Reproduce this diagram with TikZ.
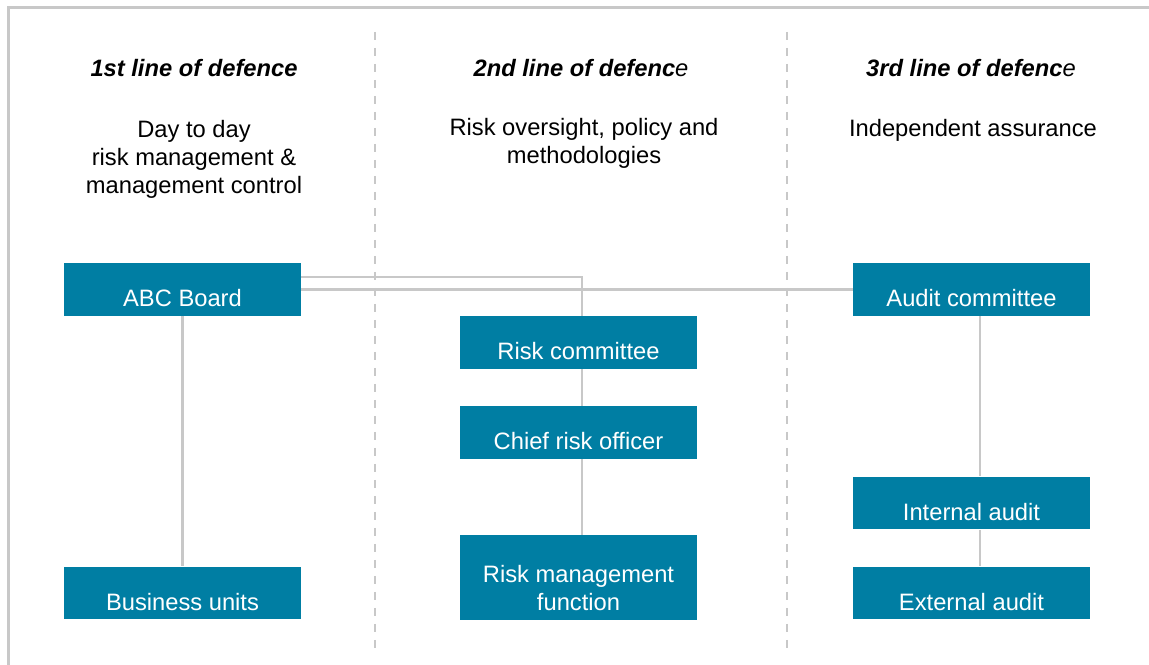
\documentclass[tikz,border=0pt]{standalone}
\usepackage{fontspec}
\setmainfont{Liberation Sans}
\usetikzlibrary{calc}
\newcommand\diagfont{\fontsize{13.5}{16}\selectfont}
\begin{document}
\begin{tikzpicture}[x=0.02cm,y=-0.02cm,
    unit/.style={fill=myteal,text=white,font=\diagfont,inner sep=0pt,minimum width=4.74cm,
        text height=0.88cm,text depth=0.18cm,align=center},
    link/.style={draw=mygray,line width=1.6pt},
    divider/.style={draw=mygray,line width=1.4pt,dash pattern=on 0.16cm off 0.16cm},
    heading/.style={anchor=base,font=\diagfont\bfseries\itshape},
    subhead/.style={anchor=north,inner sep=0pt,align=center,font=\diagfont}]

\definecolor{myteal}{RGB}{0,126,163}
\definecolor{mygray}{RGB}{200,200,200}

    \useasboundingbox (0,0) rectangle (1149,665);

    %Rahmen und Trennlinien
    \draw[link] (1149,7.5) -- (8.5,7.5) -- (8.5,665);
    \draw[divider] (375,32) -- (375,648);
    \draw[divider] (787,32) -- (787,648);

    %Ueberschriften
    \node[heading] (head1) at (194,77) {1st line of defence};
    \node[heading] (head2) at (581,77) {2nd line of defenc\textmd{e}};
    \node[heading] (head3) at (971,77) {3rd line of defenc\textmd{e}};

    \node[subhead] (sub1) at (194,120) {Day to day\\risk management \&\\management control};
    \node[subhead] (sub2) at (584,118) {Risk oversight, policy and\\methodologies};
    \node[subhead] (sub3) at (973,119) {Independent assurance};

    %Kaesten
    \node[unit] (board) at (182.5,289.5) {ABC Board};
    \node[unit] (units) at (182.5,593) {Business units};

    \node[unit] (riskcom) at (578.5,342.5) {Risk committee};
    \node[unit] (cro) at (578.5,432.5) {Chief risk officer};
    \node[unit,text height=1.52cm] (rmf) at (578.5,577.5) {Risk management\\function};

    \node[unit] (auditcom) at (971.5,289.5) {Audit committee};
    \node[unit] (internal) at (971.5,503) {Internal audit};
    \node[unit] (external) at (971.5,593) {External audit};

    %Verbindungen
    \draw[link] (board.south) -- (units.north);
    \draw[link] ($(board.east)+(0,-12.5)$) -| ($(riskcom.north)+(3.5,0)$);
    \draw[link] (board.east) -- (auditcom.west);
    \draw[link] ($(riskcom.south)+(3.5,0)$) -- ($(cro.north)+(3.5,0)$);
    \draw[link] ($(cro.south)+(3.5,0)$) -- ($(rmf.north)+(3.5,0)$);
    \draw[link] ($(auditcom.south)+(8.5,0)$) -- ($(internal.north)+(8.5,0)$);
    \draw[link] ($(internal.south)+(8.5,0)$) -- ($(external.north)+(8.5,0)$);

\end{tikzpicture}
\end{document}
